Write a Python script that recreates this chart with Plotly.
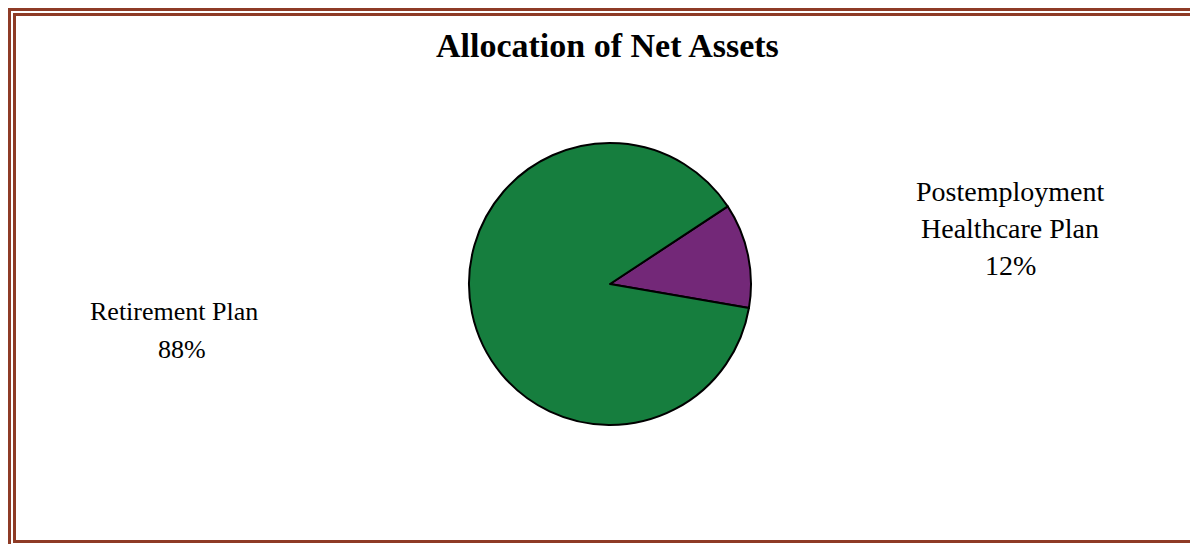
import plotly.graph_objects as go

W, H = 1198, 544
OFF = 8  # page body margin offset

labels = ["Postemployment Healthcare Plan", "Retirement Plan"]
values = [12, 88]
colors = ["#732878", "#167E3E"]
title_text = "Allocation of Net Assets"
label_lines = {
    "Retirement Plan": ["Retirement Plan", "88%"],
    "Postemployment Healthcare Plan": ["Postemployment", "Healthcare Plan", "12%"],
}

def px_x(x):
    return (x - OFF) / W

def px_y(y):
    return 1 - (y - OFF) / H

cx, cy, r = 610, 284, 141

fig = go.Figure(go.Pie(
    labels=labels,
    values=values,
    sort=False,
    direction="clockwise",
    rotation=56.6,
    marker=dict(colors=colors, line=dict(color="black", width=2)),
    textinfo="none",
    hoverinfo="label+percent",
    showlegend=False,
    domain=dict(x=[px_x(cx - r), px_x(cx + r)], y=[px_y(cy + r), px_y(cy - r)]),
))

border = "#8E3B26"
shapes = [
    # outer frame
    dict(type="line", xref="paper", yref="paper", x0=px_x(9.5), x1=px_x(9.5), y0=px_y(9), y1=px_y(560), line=dict(color=border, width=3)),
    dict(type="line", xref="paper", yref="paper", x0=px_x(8), x1=px_x(1210), y0=px_y(9.5), y1=px_y(9.5), line=dict(color=border, width=3)),
    # inner frame
    dict(type="line", xref="paper", yref="paper", x0=px_x(14.5), x1=px_x(14.5), y0=px_y(13), y1=px_y(543), line=dict(color=border, width=3)),
    dict(type="line", xref="paper", yref="paper", x0=px_x(13), x1=px_x(1210), y0=px_y(14.5), y1=px_y(14.5), line=dict(color=border, width=3)),
    dict(type="line", xref="paper", yref="paper", x0=px_x(13), x1=px_x(1210), y0=px_y(541.5), y1=px_y(541.5), line=dict(color=border, width=3)),
]

font_fam = "Liberation Serif, Times New Roman, serif"
annotations = [
    dict(text="<b>" + title_text + "</b>", x=px_x(607), y=px_y(46), xref="paper", yref="paper",
         showarrow=False, xanchor="center", yanchor="middle",
         font=dict(family=font_fam, size=34, color="black")),
]

ret_lines = label_lines["Retirement Plan"]
ret_pos = [(174, 311), (182, 349)]
for t, (x, y) in zip(ret_lines, ret_pos):
    annotations.append(dict(text=t, x=px_x(x), y=px_y(y), xref="paper", yref="paper",
                            showarrow=False, xanchor="center", yanchor="middle",
                            font=dict(family=font_fam, size=26, color="black")))

pe_lines = label_lines["Postemployment Healthcare Plan"]
pe_pos = [(1010, 191), (1010, 228), (1010, 265)]
for t, (x, y) in zip(pe_lines, pe_pos):
    annotations.append(dict(text=t, x=px_x(x), y=px_y(y), xref="paper", yref="paper",
                            showarrow=False, xanchor="center", yanchor="middle",
                            font=dict(family=font_fam, size=28, color="black")))

fig.update_layout(
    width=W, height=H,
    margin=dict(l=0, r=0, t=0, b=0),
    paper_bgcolor="white",
    plot_bgcolor="white",
    shapes=shapes,
    annotations=annotations,
)

fig.write_html("out.html")
